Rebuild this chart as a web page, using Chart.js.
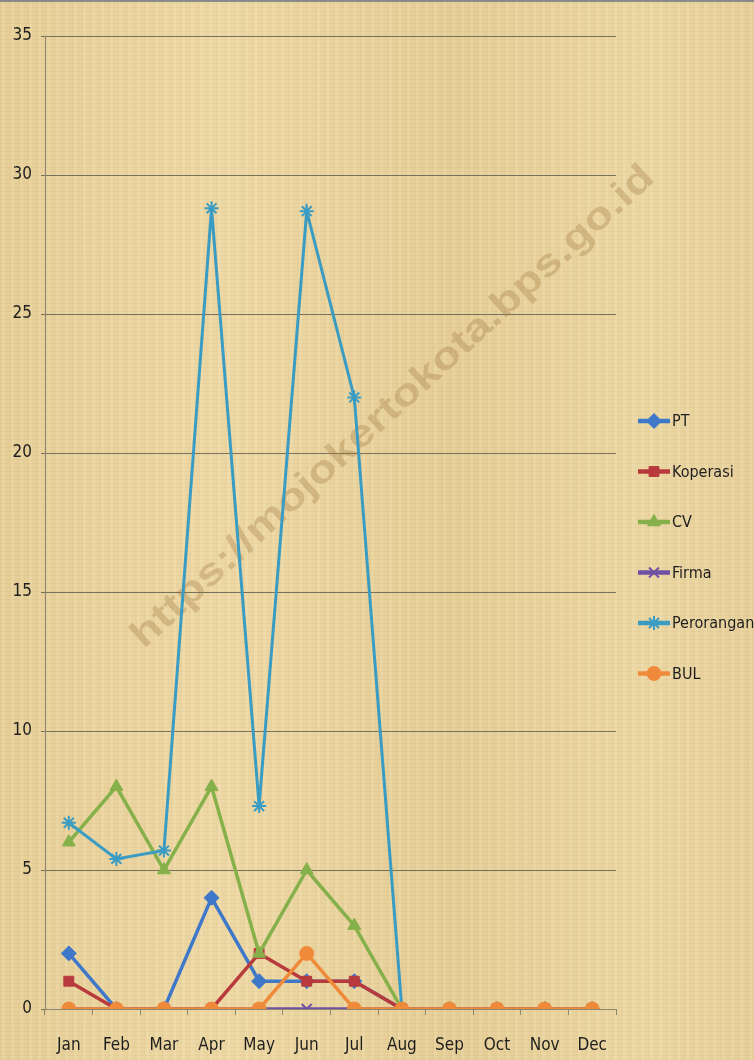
<!DOCTYPE html>
<html>
<head>
<meta charset="utf-8">
<script src="https://cdn.jsdelivr.net/npm/chart.js@4.4.1/dist/chart.umd.min.js"></script>
<style>
  html, body { margin: 0; padding: 0; }
  body {
    width: 754px; height: 1060px; overflow: hidden;
    background-color: #e9d39e;
    background-image:
      repeating-linear-gradient(90deg, rgba(160,120,50,0.06) 0px, rgba(160,120,50,0.06) 2px, rgba(255,245,210,0.07) 2px, rgba(255,245,210,0.07) 5px, rgba(160,120,50,0.03) 5px, rgba(160,120,50,0.03) 9px),
      repeating-linear-gradient(0deg, rgba(160,120,50,0.04) 0px, rgba(160,120,50,0.04) 1px, rgba(255,245,210,0.05) 1px, rgba(255,245,210,0.05) 4px),
      linear-gradient(90deg, #e7cf98 0%, #eed9a6 30%, #e6ce97 60%, #ecd8a4 85%, #e7d09b 100%);
  }
  #wrap { position: absolute; left: 0; top: 0; width: 754px; height: 1060px; border-top: 2px solid #8a8a8a; box-sizing: border-box; }
</style>
</head>
<body>
<div id="wrap"><canvas id="c" width="754" height="1058"></canvas></div>
<script>
const months = ['Jan','Feb','Mar','Apr','May','Jun','Jul','Aug','Sep','Oct','Nov','Dec'];
const yTicks = [0, 5, 10, 15, 20, 25, 30, 35];
const seriesNames = ['PT','Koperasi','CV','Firma','Perorangan','BUL'];
const pt         = [2, 0, 0, 4, 1, 1, 1, 0, 0, 0, 0, 0];
const koperasi   = [1, 0, 0, 0, 2, 1, 1, 0, 0, 0, 0, 0];
const cv         = [6, 8, 5, 8, 2, 5, 3, 0, 0, 0, 0, 0];
const firma      = [0, 0, 0, 0, 0, 0, 0, 0, 0, 0, 0, 0];
const perorangan = [6.7, 5.4, 5.7, 28.8, 7.3, 28.7, 22, 0, null, null, null, null];
const bul        = [0, 0, 0, 0, 0, 2, 0, 0, 0, 0, 0, 0];
const watermark = 'https://mojokertokota.bps.go.id';

const FONT = '"DejaVu Sans Condensed", "Liberation Sans Narrow", "Liberation Sans", sans-serif';

const colors = ['#3f78c8', '#b83a3c', '#86b04a', '#7050a4', '#3a9cc2', '#ef8a3a'];
const styles = ['rectRot', 'rect', 'triangle', 'crossRot', 'star', 'circle'];
const radii  = [7.5, 7, 7.5, 7, 7, 7];
const values = [pt, koperasi, cv, firma, perorangan, bul];

const datasets = seriesNames.map((n, i) => ({
  label: n,
  data: values[i],
  borderColor: colors[i],
  backgroundColor: colors[i],
  pointBackgroundColor: colors[i],
  pointBorderColor: colors[i],
  pointStyle: styles[i],
  pointRadius: radii[i],
  pointBorderWidth: (styles[i] === 'crossRot' || styles[i] === 'star') ? 2 : 1,
  borderWidth: i === 4 ? 3 : 3.5,
  tension: 0,
  spanGaps: false,
  order: 6 - i
}));

const watermarkPlugin = {
  id: 'wm',
  beforeDatasetsDraw(chart) {
    const ctx = chart.ctx;
    ctx.save();
    ctx.translate(393, 405);
    ctx.rotate(-42.5 * Math.PI / 180);
    ctx.font = 'bold 38px "Liberation Sans", Arial, sans-serif';
    const w = ctx.measureText(watermark).width;
    const target = 695;
    ctx.scale(target / w, 1);
    ctx.fillStyle = 'rgba(160, 118, 62, 0.32)';
    ctx.textAlign = 'center';
    ctx.textBaseline = 'middle';
    ctx.fillText(watermark, 0, 0);
    ctx.restore();
  }
};

const legendPlugin = {
  id: 'customLegend',
  afterDraw(chart) {
    const ctx = chart.ctx;
    const x0 = 638, x1 = 670, y0 = 419, step = 50.5;
    chart.data.datasets.forEach((ds, i) => {
      const y = y0 + i * step;
      ctx.save();
      ctx.strokeStyle = ds.borderColor;
      ctx.lineWidth = 4.5;
      ctx.beginPath();
      ctx.moveTo(x0, y);
      ctx.lineTo(x1, y);
      ctx.stroke();
      ctx.fillStyle = ds.backgroundColor;
      ctx.strokeStyle = ds.borderColor;
      ctx.lineWidth = ds.pointBorderWidth;
      Chart.helpers.drawPoint(ctx, { pointStyle: ds.pointStyle, radius: ds.pointRadius, borderWidth: ds.pointBorderWidth, rotation: 0 }, (x0 + x1) / 2, y);
      ctx.fillStyle = '#1e1e1e';
      ctx.font = '16px ' + FONT;
      ctx.textAlign = 'left';
      ctx.textBaseline = 'middle';
      ctx.fillText(ds.label, x1 + 2, y + 1);
      ctx.restore();
    });
  }
};

new Chart(document.getElementById('c'), {
  type: 'line',
  data: { labels: months, datasets },
  options: {
    responsive: false,
    animation: false,
    layout: { padding: { top: 34, right: 138, bottom: 0, left: 0 } },
    plugins: { legend: { display: false }, tooltip: { enabled: false } },
    scales: {
      x: {
        offset: true,
        grid: { display: true, drawOnChartArea: false, drawTicks: true, tickLength: 6, color: '#8c8770', offset: true },
        border: { display: true, color: '#8c8770', width: 1 },
        ticks: { font: { family: FONT, size: 17 }, color: '#1e1e1e', padding: 20, maxRotation: 0, autoSkip: false },
        afterFit(s) { s.height = 51; }
      },
      y: {
        min: 0, max: 35,
        afterBuildTicks(s) { s.ticks = yTicks.map(v => ({ value: v })); },
        grid: { color: '#77725a', lineWidth: 1, drawTicks: true, tickLength: 4 },
        border: { display: true, color: '#8c8770', width: 1 },
        ticks: { font: { family: FONT, size: 17 }, color: '#1e1e1e', padding: 9 },
        afterFit(s) { s.width = 45; }
      }
    }
  },
  plugins: [watermarkPlugin, legendPlugin]
});
</script>
</body>
</html>
